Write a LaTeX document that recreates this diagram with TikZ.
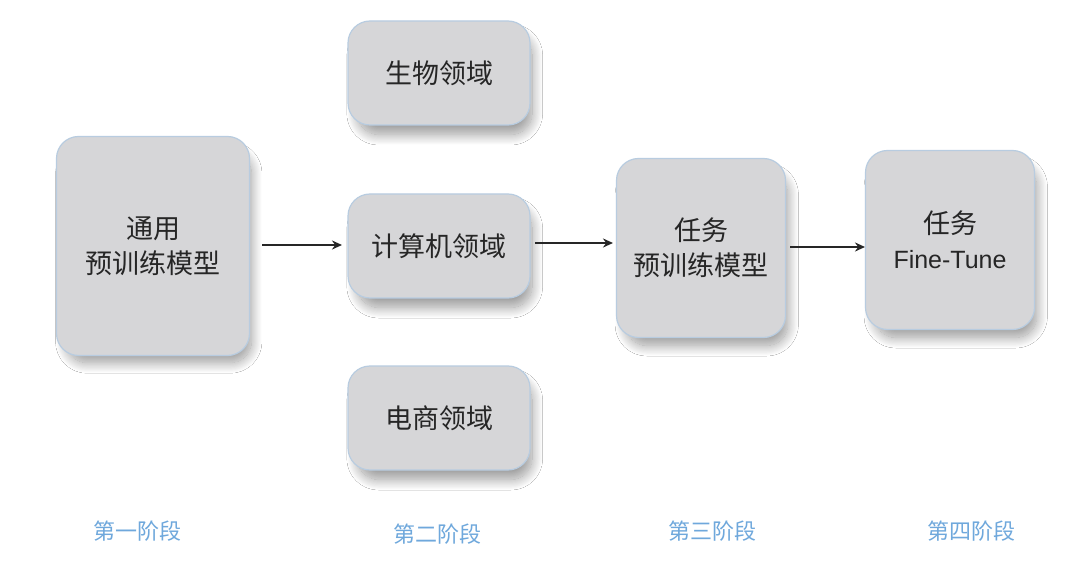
\documentclass[tikz,border=0pt]{standalone}
\usepackage{fontspec}
\setmainfont{Liberation Sans}
\newfontfamily\cjk{Noto Sans CJK SC}
\usetikzlibrary{shadows.blur,arrows.meta}
\definecolor{boxfill}{HTML}{D6D6D8}
\definecolor{boxedge}{HTML}{B8CCE0}
\definecolor{stagec}{HTML}{6FA8DC}
\tikzset{
  boxst/.style={draw=boxedge, line width=1.2pt, fill=boxfill, rounded corners=22pt,
    blur shadow={shadow xshift=6pt, shadow yshift=-12pt, shadow blur radius=11pt, shadow opacity=40, shadow scale=0.96, shadow blur steps=20},
    align=center, font=\cjk\fontsize{27}{35}\selectfont, text=black!85},
  stagest/.style={font=\cjk\fontsize{22}{26}\selectfont, text=stagec},
  arr/.style={-{Stealth[length=10pt,width=9pt]}, line width=1.8pt, black!85}
}
\begin{document}
\begin{tikzpicture}[x=1pt,y=-1pt]
\useasboundingbox[fill=white] (0,0) rectangle (1080,564);
\node[boxst, minimum width=193pt, minimum height=219pt] (gen) at (153,246) {通用\\预训练模型};
\node[boxst, minimum width=182pt, minimum height=104pt] (bio) at (439,73) {生物领域};
\node[boxst, minimum width=182pt, minimum height=104pt] (cs) at (439,246) {计算机领域};
\node[boxst, minimum width=182pt, minimum height=104pt] (ec) at (439,418) {电商领域};
\node[boxst, minimum width=169pt, minimum height=179pt] (task) at (701,248) {任务\\预训练模型};
\node[boxst, minimum width=169pt, minimum height=179pt] (ft) at (950,240) {任务\\{\fontsize{25}{33}\selectfont\rmfamily Fine-Tune}};
\coordinate (a1s) at (262,245); \coordinate (a1e) at (342,245);
\coordinate (a2s) at (535,243); \coordinate (a2e) at (613,243);
\coordinate (a3s) at (790,247); \coordinate (a3e) at (865,247);
\draw[arr] (a1s) -- (a1e);
\draw[arr] (a2s) -- (a2e);
\draw[arr] (a3s) -- (a3e);
\node[stagest] (s1) at (137,531) {第一阶段};
\node[stagest] (s2) at (437,534) {第二阶段};
\node[stagest] (s3) at (712,531) {第三阶段};
\node[stagest] (s4) at (971,531) {第四阶段};
\end{tikzpicture}
\end{document}
